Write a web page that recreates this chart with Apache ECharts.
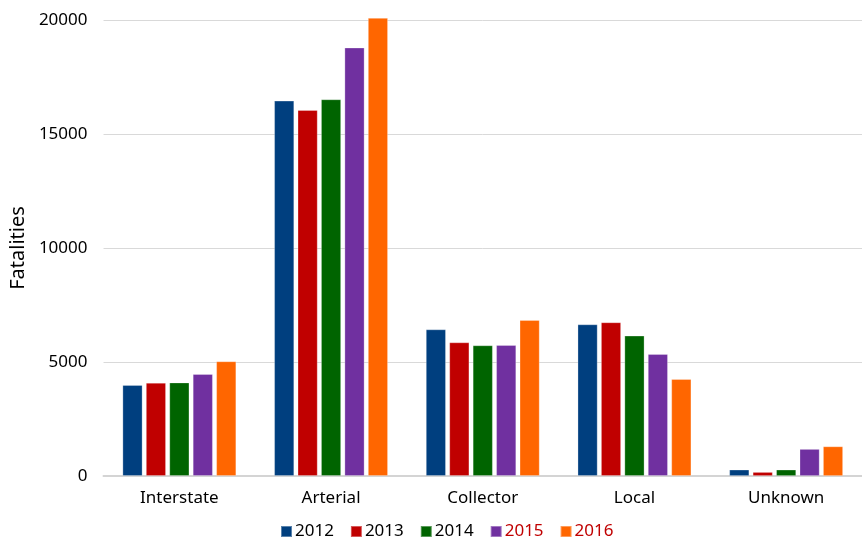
<!DOCTYPE html>
<html>
<head>
<meta charset="utf-8">
<script src="https://cdn.jsdelivr.net/npm/echarts@6/dist/echarts.min.js"></script>
<style>
html,body{margin:0;padding:0;background:#fff;}
#chart{width:862px;height:545px;}
</style>
</head>
<body>
<div id="chart"></div>
<script>
// Fatalities by roadway function class, 2012-2016
var categories = ['Interstate', 'Arterial', 'Collector', 'Local', 'Unknown'];
var years = ['2012', '2013', '2014', '2015', '2016'];
var fatal2012 = [3990, 16460, 6430, 6650, 280];
var fatal2013 = [4090, 16050, 5860, 6740, 175];
var fatal2014 = [4100, 16520, 5730, 6155, 280];
var fatal2015 = [4470, 18790, 5740, 5350, 1185];
var fatal2016 = [5030, 20090, 6840, 4250, 1300];
var yTicks = [0, 5000, 10000, 15000, 20000];

var seriesValues = [fatal2012, fatal2013, fatal2014, fatal2015, fatal2016];
var colors = ['#003f7f', '#c00000', '#006400', '#7030a0', '#ff6600'];
var legendTextColors = ['#000000', '#000000', '#000000', '#c00000', '#c00000'];
var font = 'Noto Sans';

var chart = echarts.init(document.getElementById('chart'), null, {renderer: 'canvas'});
chart.setOption({
  animation: false,
  color: colors,
  textStyle: {fontFamily: font},
  grid: {left: 102, top: 20, width: 768, bottom: 69, containLabel: false},
  legend: {
    bottom: 0,
    left: 275,
    itemWidth: 11,
    itemHeight: 11,
    itemGap: 16,
    icon: 'rect',
    textStyle: {fontSize: 17, fontFamily: font, padding: [0, 0, 0, -2]},
    data: years.map(function (y, i) {
      return {name: y, textStyle: {color: legendTextColors[i]}};
    })
  },
  xAxis: {
    type: 'category',
    data: categories,
    axisLine: {lineStyle: {color: '#d4d4d4', width: 2}},
    axisTick: {show: false},
    axisLabel: {color: '#000', fontSize: 17, margin: 14, fontFamily: font}
  },
  yAxis: {
    type: 'value',
    min: yTicks[0],
    max: yTicks[yTicks.length - 1],
    interval: yTicks[1] - yTicks[0],
    name: 'Fatalities',
    nameLocation: 'middle',
    nameGap: 70,
    nameRotate: 90,
    nameTextStyle: {color: '#000', fontSize: 20, fontFamily: font},
    axisLine: {show: false},
    axisTick: {show: false},
    axisLabel: {
      color: '#000', fontSize: 17, margin: 16, fontFamily: font,
      formatter: function (v) { return String(v); }
    },
    splitLine: {lineStyle: {color: '#d9d9d9', width: 1}}
  },
  series: years.map(function (y, i) {
    return {
      name: y,
      type: 'bar',
      data: seriesValues[i],
      clip: false,
      barCategoryGap: '25%',
      barGap: '17%',
      itemStyle: {color: colors[i], borderColor: 'rgba(255,255,255,0.35)', borderWidth: 0.8}
    };
  })
});
</script>
</body>
</html>
